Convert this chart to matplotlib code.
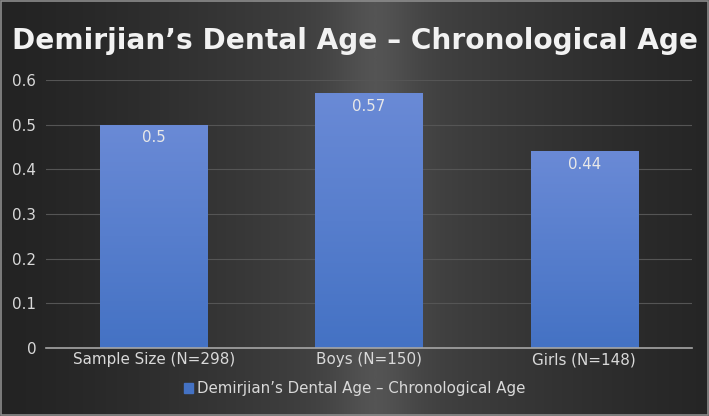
import numpy as np
import matplotlib
matplotlib.use("Agg")
import matplotlib.pyplot as plt
from matplotlib.colors import LinearSegmentedColormap

plt.rcParams['font.family'] = ['DejaVu Sans']

categories = ["Sample Size (N=298)", "Boys (N=150)", "Girls (N=148)"]
values = [0.5, 0.57, 0.44]
value_labels = ["0.5", "0.57", "0.44"]
series_name = "Demirjian\u2019s Dental Age \u2013 Chronological Age"
title = "Demirjian\u2019s Dental Age \u2013 Chronological Age"
yticks = [0, 0.1, 0.2, 0.3, 0.4, 0.5, 0.6]

W, H = 709, 416
fig = plt.figure(figsize=(W / 100, H / 100), dpi=100)

# background gradient
bg = fig.add_axes([0, 0, 1, 1], zorder=-10)
x = np.linspace(0, 1, 700)
c = 0.53
d = np.abs(x - c) / 0.53
prof = 0.75 * np.clip(1 - d, 0, 1) ** 1.3 + 0.25 * np.exp(-((x - c) / 0.06) ** 2)
prof = prof / prof.max()
bgcmap = LinearSegmentedColormap.from_list("bg", ["#232323", "#545454"])
bg.imshow(prof[None, :], cmap=bgcmap, aspect="auto", extent=[0, 1, 0, 1], vmin=0, vmax=1)
bg.set_xlim(0, 1)
bg.set_ylim(0, 1)
bg.axis("off")
bg.add_patch(plt.Rectangle((0.002, 0.003), 0.996, 0.994, fill=False, ec="#8c8c8c", lw=1.2, transform=bg.transAxes))

ax = fig.add_axes([46 / W, 1 - 348 / H, (692 - 46) / W, (348 - 80) / H])
ax.patch.set_alpha(0)
xpos = np.arange(len(categories))
bars = ax.bar(xpos, values, width=0.5, color="#4472c4", zorder=3)

gcm = LinearSegmentedColormap.from_list("bar", ["#4472c4", "#6a8ad6"])
grad = np.linspace(0, 1, 256)[:, None]
for b in bars:
    bx, by, bw, bh = b.get_x(), b.get_y(), b.get_width(), b.get_height()
    im = ax.imshow(grad, cmap=gcm, aspect="auto", origin="lower",
                   extent=[bx, bx + bw, by, by + bh], zorder=4, vmin=0, vmax=1)
    im.set_clip_path(b)

for xp, v, lab in zip(xpos, values, value_labels):
    ax.text(xp, v - 0.012, lab, ha="center", va="top", color="#e8e8e8", fontsize=10.8, zorder=5)

ax.set_xlim(-0.5, 2.5)
ax.set_ylim(0, 0.6)
ax.set_yticks(yticks)
ax.set_yticklabels(["0", "0.1", "0.2", "0.3", "0.4", "0.5", "0.6"])
ax.yaxis.grid(True, color="#555555", lw=0.8, zorder=0)
ax.set_xticks(xpos)
ax.set_xticklabels(categories)
ax.tick_params(axis="both", colors="#d9d9d9", labelsize=10.9, length=0)
ax.tick_params(axis="y", pad=7)
ax.tick_params(axis="x", pad=3)
for s in ["top", "right", "left"]:
    ax.spines[s].set_visible(False)
ax.spines["bottom"].set_color("#a6a6a6")
ax.spines["bottom"].set_linewidth(1.2)
ax.spines["bottom"].set_zorder(6)

fig.text(0.5, 1 - 41 / H, title, ha="center", va="center", color="#f2f2f2",
         fontsize=20.2, fontweight="bold")

handle = plt.Rectangle((0, 0), 1, 1, color="#4472c4")
fig.legend([handle], [series_name], loc="center", bbox_to_anchor=(0.5, 1 - 389 / H),
           frameon=False, fontsize=10.8, labelcolor="#d9d9d9", handlelength=0.6,
           handleheight=0.6, handletextpad=0.3)

fig.savefig("out.png", dpi=100)
